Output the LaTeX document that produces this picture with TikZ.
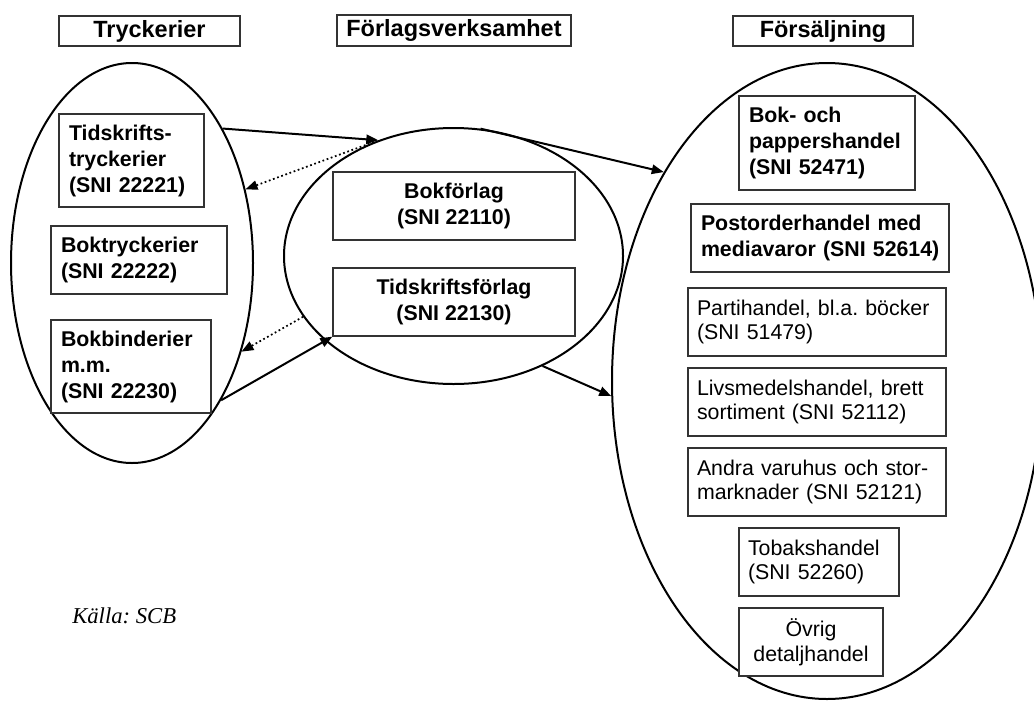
\documentclass[tikz,border=0pt]{standalone}
\usepackage{fontspec}
\setmainfont{Liberation Sans}
\newfontfamily\timesit{Liberation Serif}
\usetikzlibrary{shapes.geometric,arrows.meta}
\frenchspacing
\begin{document}
\begin{tikzpicture}[x=0.75pt,y=-0.75pt,
  ell/.style={ellipse,draw,line width=1.5pt,inner sep=0pt},
  frm/.style={rectangle,draw=black!80,line width=1pt,fill=white},
  bodyb/.style={font=\frenchspacing\fontsize{16}{19.5}\selectfont\bfseries},
  bodyr/.style={font=\frenchspacing\fontsize{16}{18.5}\selectfont},
  ttl/.style={frm,font=\fontsize{17.6}{21}\selectfont\bfseries,inner sep=0pt},
  lbox/.style 2 args={frm,align=left,text width=#1,minimum height=#2,inner xsep=7.5pt,inner ysep=0pt},
  rbox/.style 2 args={frm,align=left,text width=#1,minimum height=#2,inner xsep=6.75pt,inner ysep=0pt},
  cbox/.style 2 args={frm,align=center,minimum width=#1,minimum height=#2,inner sep=0pt},
  conn/.style={line width=1.5pt,-{Triangle[length=9pt,width=7pt]}},
  dconn/.style={line width=1.3pt,dash pattern=on 1.3pt off 2pt,-{Triangle[length=9pt,width=7pt]}},
]
\useasboundingbox (0,0) rectangle (1034,700);
\clip (0,0) rectangle (1034,700);
\fill[white] (0,0) rectangle (1034,700);

% ellipses
\node[ell, minimum width=181.5pt, minimum height=300pt] (E1) at (132,263) {};
\node[ell, minimum width=254.25pt, minimum height=192pt] (E2) at (453.5,256) {};
\node[ell, minimum width=322.5pt, minimum height=477pt] (E3) at (827,381) {};

% titles
\node[ttl, minimum width=135.75pt, minimum height=22.5pt] (T1) at (149.5,31) {Tryckerier};
\node[ttl, minimum width=175.5pt, minimum height=23.25pt] (T2) at (454,30.5) {Förlagsverksamhet};
\node[ttl, minimum width=135pt, minimum height=22.5pt] (T3) at (823,31) {Försäljning};

% left group
\node[lbox={93.75pt}{69.75pt}, bodyb] (A1) at (131.5,160.5) {Tidskrifts-\\tryckerier\\(SNI 22221)};
\node[lbox={117pt}{51pt}, bodyb] (A2) at (139,260) {Boktryckerier\\(SNI 22222)};
\node[lbox={105pt}{69.75pt}, bodyb] (A3) at (131,366.5) {Bokbinderier\\m.m.\\(SNI 22230)};

% middle group
\node[cbox={181.5pt}{51pt}, bodyb] (B1) at (454,206) {Bokförlag\\(SNI 22110)};
\node[cbox={181.5pt}{51pt}, bodyb] (B2) at (454,302) {Tidskriftsförlag\\(SNI 22130)};

% right group
\node[lbox={117pt}{70.5pt}, bodyb] (C1) at (827,143) {Bok- och\\pappershandel\\(SNI 52471)};
\node[lbox={178.5pt}{51pt}, bodyb] (C2) at (820,238) {\mbox{Postorderhandel med}\\\mbox{mediavaror (SNI 52614)}};
\node[rbox={180pt}{51pt}, bodyr] (C3) at (817,322) {Partihandel, bl.a. böcker\\(SNI 51479)};
\node[rbox={180pt}{51pt}, bodyr] (C4) at (817,402) {Livsmedelshandel, brett\\sortiment (SNI 52112)};
\node[rbox={180pt}{51pt}, bodyr] (C5) at (817,482) {Andra varuhus och stor-\\marknader (SNI 52121)};
\node[rbox={106.5pt}{51pt}, bodyr] (C6) at (819,562) {Tobakshandel\\(SNI 52260)};
\node[cbox={108pt}{51pt}, bodyr] (C7) at (811,642) {Övrig\\detaljhandel};

% source
\node[anchor=base west, inner sep=0pt, font=\fontsize{17}{20}\selectfont\timesit\itshape] (K) at (72,623) {Källa: SCB};

% connectors
\draw[conn] (E1.56.3) -- (E2.123);
\draw[dconn] (E2.125.9) -- (E1.33.3);
\draw[dconn] (E2.202.4) -- (E1.-39);
\draw[conn] (E1.-57.3) -- (B2.south west);
\draw[conn] (E2.78.3) -- (E3.128.8);
\draw[conn] (E2.-51.4) -- (E3.184.5);
\end{tikzpicture}
\end{document}
